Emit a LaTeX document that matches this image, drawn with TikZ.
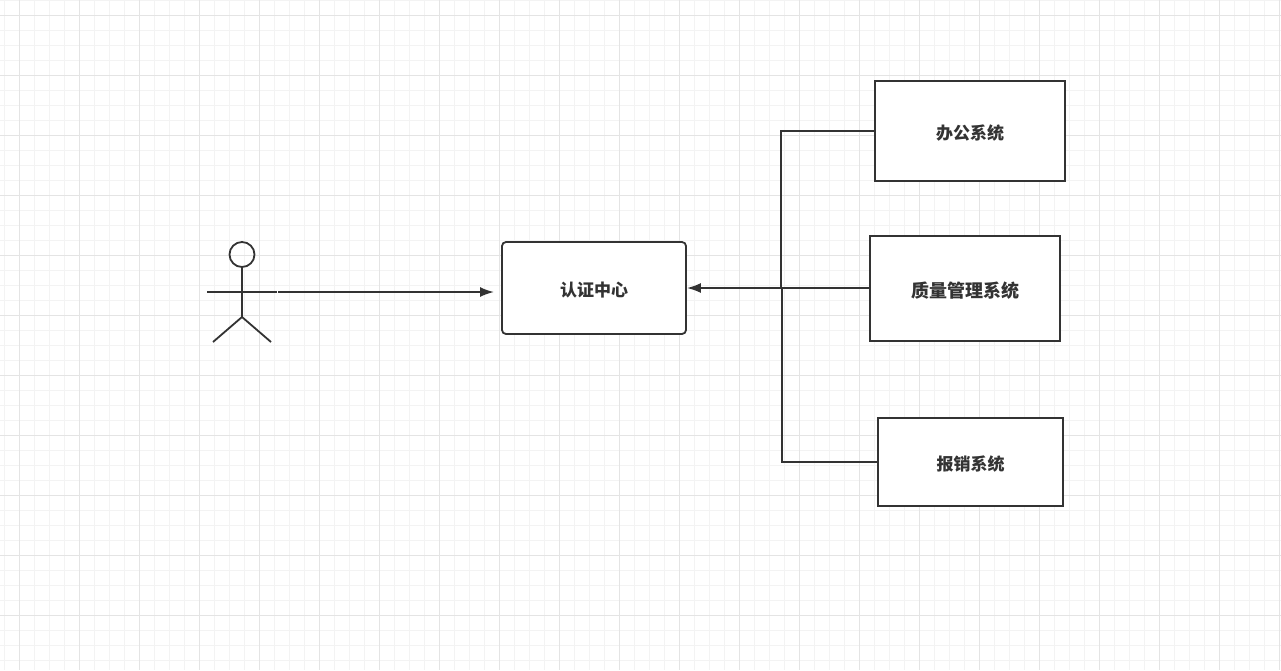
\documentclass[tikz,border=0pt]{standalone}
\usepackage{fontspec}
\setmainfont{Noto Sans CJK SC}
\usepackage{tikz}
\usetikzlibrary{arrows.meta}
\definecolor{ink}{HTML}{333333}
\definecolor{majorgrid}{HTML}{E4E4E4}
\definecolor{minorgrid}{HTML}{F3F3F3}

\begin{document}
\begin{tikzpicture}[x=1pt,y=-1pt,
        box/.style={rectangle,draw=ink,line width=1.8pt,fill=white,text=ink,inner sep=0pt,text height=17pt,text depth=0pt,font=\bfseries\fontsize{17}{17}\selectfont},
        link/.style={draw=ink,line width=1.8pt},
        flow/.style={link,-{Latex[length=14pt,width=10pt]}}]

    \useasboundingbox (0,0) rectangle (1281,670);
    \fill[white] (0,0) rectangle (1281,670);

    % grid
    \foreach \x in {4,19,...,1279}
        \draw[minorgrid,line width=1pt] (\x.5,0) -- (\x.5,670);
    \foreach \y in {0,15,...,669}
        \draw[minorgrid,line width=1pt] (0,\y.5) -- (1281,\y.5);
    \foreach \x in {19,79,...,1279}
        \draw[majorgrid,line width=1pt] (\x.5,0) -- (\x.5,670);
    \foreach \y in {15,75,...,669}
        \draw[majorgrid,line width=1pt] (0,\y.5) -- (1281,\y.5);

    \node[box,rounded corners=4pt,minimum width=184pt,minimum height=92pt] (auth) at (594,288) {认证中心};
    \node[box,minimum width=190pt,minimum height=100pt] (office) at (970,131) {办公系统};
    \node[box,minimum width=190pt,minimum height=105pt,font=\bfseries\fontsize{18}{18}\selectfont] (quality) at (965,288.5) {质量管理系统};
    \node[box,minimum width=185pt,minimum height=88pt] (expense) at (970.5,462) {报销系统};

    % stick figure
    \node[circle,draw=ink,line width=1.8pt,minimum size=25pt,inner sep=0pt] (head) at (242,254.5) {};
    \coordinate (hip) at (242,317);
    \coordinate (armL) at (207,292);
    \coordinate (armR) at (277,292);
    \coordinate (legL) at (213,342);
    \coordinate (legR) at (271,342);
    \draw[link] (head) -- (hip);
    \draw[link] (armL) -- (armR);
    \draw[link] (legL) -- (hip) -- (legR);

    \coordinate (start) at (278,292);
    \coordinate (stop) at (494,292);
    \draw[flow] (start) -- (stop);

    \coordinate (upper) at (781,288);
    \coordinate (lower) at (782,288);
    \draw[flow] (quality.west |- auth.east) -- (auth.east);
    \draw[link] (office.west) -| (upper);
    \draw[link] (expense.west) -| (lower);
\end{tikzpicture}
\end{document}
